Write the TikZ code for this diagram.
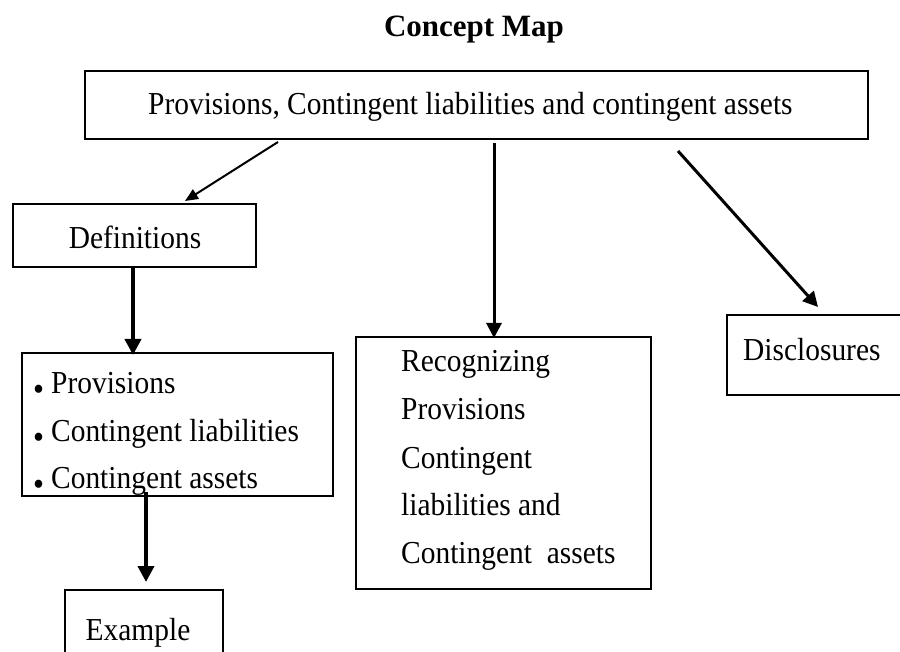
\documentclass[tikz,border=0pt]{standalone}
\usepackage{fontspec}
\setmainfont{Liberation Serif}[FakeStretch=0.92]
\newfontfamily\headfont{Liberation Serif}
\usetikzlibrary{arrows.meta,calc}

% round bullet sitting low, close to the baseline
\newcommand\bulletmark{{\fontsize{34}{34}\selectfont\raisebox{-7pt}{•}}\hspace{7pt}}

\begin{document}
\begin{tikzpicture}[x=1pt,y=-1pt,
  box/.style={draw=black, line width=2.6pt, inner sep=0pt, outer sep=0pt},
  txt/.style={inner sep=0pt, anchor=base west, font=\fontsize{32}{38}\selectfont},
  ctxt/.style={txt, anchor=base},
  link/.style={line width=2pt, -{Triangle[length=13pt,width=11pt]}},
  midlink/.style={line width=3pt, -{Triangle[length=15pt,width=15pt]}},
  strong/.style={line width=3.8pt, -{Triangle[length=16pt,width=16pt]}}]

  \clip (0,0) rectangle (900,652);
  \fill[white] (0,0) rectangle (900,652);

  % heading
  \node[ctxt, font=\headfont\bfseries\fontsize{31}{36}\selectfont] (title) at (474,37) {Concept Map};

  % boxes
  \node[box, minimum width=783pt, minimum height=68pt] (top) at (476.5,105) {};
  \node[box, minimum width=243pt, minimum height=63pt] (defs) at (134.5,235.5) {};
  \node[box, minimum width=311pt, minimum height=143pt] (bullets) at (177.5,424.5) {};
  \node[box, minimum width=158pt, minimum height=82pt] (example) at (144,631) {};
  \node[box, minimum width=295pt, minimum height=252pt] (recog) at (503.5,463) {};
  \node[box, minimum width=180pt, minimum height=80pt] (disc) at (817,355) {};

  % box texts
  \node[txt] (toptext) at (148,115) {Provisions, Contingent liabilities and contingent assets};
  \node[ctxt] (defstext) at (135,249) {Definitions};

  \node[txt] (b1) at (33,393) {\bulletmark Provisions};
  \node[txt] (b2) at (33,441) {\bulletmark Contingent liabilities};
  \node[txt] (b3) at (33,488) {\bulletmark Contingent assets};

  \node[ctxt] (extext) at (138,640) {Example};

  \node[txt] (r1) at (401,372) {Recognizing};
  \node[txt] (r2) at (401,420) {Provisions};
  \node[txt] (r3) at (401,468) {Contingent};
  \node[txt] (r4) at (401,515) {liabilities and};
  \node[txt] (r5) at (401,563) {Contingent\ \ assets};

  \node[txt] (disctext) at (743,361) {Disclosures};

  % connectors
  \draw[link] ($(top.south)+(-198.5,3)$) -- ($(defs.north)+(50.5,-3)$);
  \draw[strong] ($(defs.south)+(-1.5,0)$) -- ($(bullets.north)+(-44.5,2)$);
  \draw[strong] ($(bullets.south)+(-31.5,-4)$) -- ($(example.north)+(2,-8)$);
  \draw[midlink] ($(top.south)+(17.5,4)$) -- ($(recog.north)+(-9.5,1)$);
  \draw[midlink] ($(top.south)+(201.5,12)$) -- ($(disc.north)+(1,-8)$);
\end{tikzpicture}
\end{document}
